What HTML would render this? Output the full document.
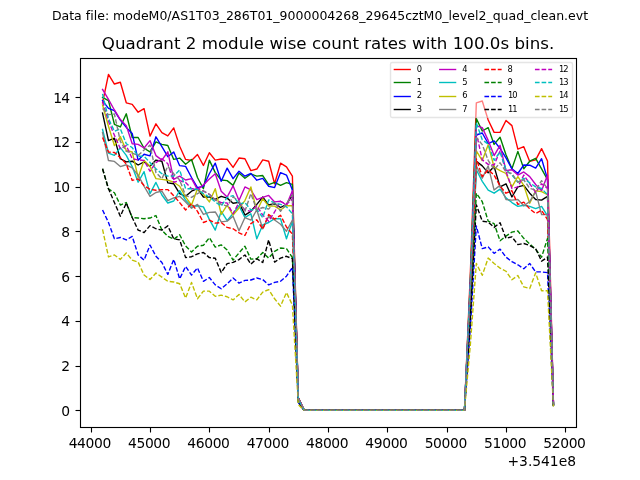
<!DOCTYPE html>
<html lang="en">
<head>
<meta charset="utf-8">
<title>Quadrant 2 module wise count rates</title>
<style>
html,body{margin:0;padding:0;background:#fff;}
body{width:640px;height:480px;overflow:hidden;}
svg{display:block;}
text{font-family:"DejaVu Sans","Liberation Sans",sans-serif;fill:#000;font-variant-ligatures:none;font-kerning:none;}
.tk{font-size:13.889px;}
.lg{font-size:8.333px;}
.ln{fill:none;stroke-width:1.389;stroke-linejoin:round;}
.ds{stroke-dasharray:4.64 2.01;}
.ax{stroke:#000;stroke-width:1.11;fill:none;}
</style>
</head>
<body>
<svg width="640" height="480" viewBox="0 0 640 480">
<rect x="0" y="0" width="640" height="480" fill="#ffffff"/>
<defs><clipPath id="axclip"><rect x="80" y="57.6" width="496" height="369.6"/></clipPath></defs>
<text x="320" y="19.6" text-anchor="middle" font-size="12.5" textLength="536.24">Data file: modeM0/AS1T03_286T01_9000004268_29645cztM0_level2_quad_clean.evt</text>
<text x="328" y="49.3" text-anchor="middle" font-size="16.667" textLength="452.4">Quadrant 2 module wise count rates with 100.0s bins.</text>
<g clip-path="url(#axclip)">
<polyline class="ln" stroke="#ff0000" stroke-linecap="square" points="102.55,102.81 108.48,74.40 114.41,84.02 120.34,82.23 126.28,102.81 132.21,104.38 138.14,112.21 144.08,108.63 150.01,136.14 155.94,123.84 161.88,132.56 167.81,135.92 173.74,127.86 179.67,146.21 185.61,159.41 191.54,160.53 197.47,154.49 203.41,165.45 209.34,152.70 215.27,160.08 221.21,158.96 227.14,159.41 233.07,167.46 239.00,158.06 244.94,158.74 250.87,170.59 256.80,169.03 262.74,159.85 268.67,161.20 274.60,183.79 280.54,163.21 286.47,166.79 292.40,176.18 298.33,397.52 304.27,410.40 310.20,410.40 316.13,410.40 322.07,410.40 328.00,410.40 333.93,410.40 339.87,410.40 345.80,410.40 351.73,410.40 357.67,410.40 363.60,410.40 369.53,410.40 375.46,410.40 381.40,410.40 387.33,410.40 393.26,410.40 399.20,410.40 405.13,410.40 411.06,410.40 417.00,410.40 422.93,410.40 428.86,410.40 434.79,410.40 440.73,410.40 446.66,410.40 452.59,410.40 458.53,410.40 464.46,410.40 470.39,271.98 476.33,102.81 482.26,101.02 488.19,120.04 494.12,132.34 500.06,132.34 505.99,120.48 511.92,125.63 517.86,149.12 523.79,146.66 529.72,161.42 535.66,159.85 541.59,148.67 547.52,160.97 553.45,403.67"/>
<polyline class="ln" stroke="#008000" stroke-linecap="square" points="102.55,97.44 108.48,100.57 114.41,124.29 120.34,126.97 126.28,113.77 132.21,137.48 138.14,137.48 144.08,148.22 150.01,151.80 155.94,141.96 161.88,144.42 167.81,145.54 173.74,159.41 179.67,158.06 185.61,164.33 191.54,159.41 197.47,177.53 203.41,188.71 209.34,160.08 215.27,172.61 221.21,179.99 227.14,180.66 233.07,185.36 239.00,173.05 244.94,178.20 250.87,173.95 256.80,176.18 262.74,175.51 268.67,184.68 274.60,182.45 280.54,185.36 286.47,182.67 292.40,184.46 298.33,397.97 304.27,410.40 310.20,410.40 316.13,410.40 322.07,410.40 328.00,410.40 333.93,410.40 339.87,410.40 345.80,410.40 351.73,410.40 357.67,410.40 363.60,410.40 369.53,410.40 375.46,410.40 381.40,410.40 387.33,410.40 393.26,410.40 399.20,410.40 405.13,410.40 411.06,410.40 417.00,410.40 422.93,410.40 428.86,410.40 434.79,410.40 440.73,410.40 446.66,410.40 452.59,410.40 458.53,410.40 464.46,410.40 470.39,279.03 476.33,118.47 482.26,131.00 488.19,127.64 494.12,144.42 500.06,137.26 505.99,154.71 511.92,168.80 517.86,151.35 523.79,168.80 529.72,161.20 535.66,158.29 541.59,168.80 547.52,179.76 553.45,404.17"/>
<polyline class="ln" stroke="#0000ff" stroke-linecap="square" points="102.55,100.57 108.48,108.40 114.41,110.64 120.34,120.04 126.28,127.42 132.21,133.46 138.14,160.30 144.08,154.26 150.01,155.83 155.94,136.81 161.88,146.66 167.81,156.72 173.74,152.02 179.67,165.67 185.61,166.34 191.54,177.53 197.47,187.59 203.41,186.25 209.34,173.72 215.27,163.21 221.21,181.33 227.14,168.13 233.07,178.65 239.00,171.26 244.94,176.18 250.87,173.50 256.80,180.21 262.74,178.42 268.67,186.25 274.60,187.59 280.54,172.61 286.47,175.07 292.40,190.05 298.33,398.28 304.27,410.40 310.20,410.40 316.13,410.40 322.07,410.40 328.00,410.40 333.93,410.40 339.87,410.40 345.80,410.40 351.73,410.40 357.67,410.40 363.60,410.40 369.53,410.40 375.46,410.40 381.40,410.40 387.33,410.40 393.26,410.40 399.20,410.40 405.13,410.40 411.06,410.40 417.00,410.40 422.93,410.40 428.86,410.40 434.79,410.40 440.73,410.40 446.66,410.40 452.59,410.40 458.53,410.40 464.46,410.40 470.39,286.48 476.33,135.02 482.26,133.01 488.19,143.52 494.12,140.84 500.06,148.45 505.99,157.84 511.92,168.80 517.86,173.50 523.79,165.00 529.72,165.22 535.66,168.13 541.59,158.74 547.52,179.09 553.45,404.15"/>
<polyline class="ln" stroke="#000000" stroke-linecap="square" points="102.55,113.10 108.48,140.62 114.41,138.15 120.34,158.74 126.28,161.87 132.21,161.20 138.14,165.00 144.08,161.87 150.01,166.34 155.94,160.08 161.88,161.20 167.81,182.90 173.74,183.79 179.67,193.63 185.61,196.32 191.54,191.17 197.47,188.71 203.41,196.99 209.34,196.99 215.27,199.45 221.21,196.32 227.14,198.11 233.07,203.25 239.00,202.36 244.94,215.11 250.87,211.31 256.80,204.37 262.74,196.99 268.67,205.04 274.60,203.70 280.54,207.50 286.47,204.37 292.40,194.98 298.33,398.55 304.27,410.40 310.20,410.40 316.13,410.40 322.07,410.40 328.00,410.40 333.93,410.40 339.87,410.40 345.80,410.40 351.73,410.40 357.67,410.40 363.60,410.40 369.53,410.40 375.46,410.40 381.40,410.40 387.33,410.40 393.26,410.40 399.20,410.40 405.13,410.40 411.06,410.40 417.00,410.40 422.93,410.40 428.86,410.40 434.79,410.40 440.73,410.40 446.66,410.40 452.59,410.40 458.53,410.40 464.46,410.40 470.39,298.26 476.33,161.20 482.26,165.89 488.19,172.83 494.12,166.57 500.06,186.92 505.99,183.79 511.92,196.99 517.86,186.92 523.79,185.36 529.72,193.19 535.66,199.45 541.59,200.12 547.52,196.32 553.45,404.62"/>
<polyline class="ln" stroke="#bf00bf" stroke-linecap="square" points="102.55,89.39 108.48,99.45 114.41,109.97 120.34,119.59 126.28,125.63 132.21,143.75 138.14,144.42 144.08,148.00 150.01,140.62 155.94,155.60 161.88,160.08 167.81,151.80 173.74,179.32 179.67,176.18 185.61,179.99 191.54,178.65 197.47,189.61 203.41,184.91 209.34,179.09 215.27,173.72 221.21,191.17 227.14,196.99 233.07,185.80 239.00,200.57 244.94,186.92 250.87,189.83 256.80,199.67 262.74,197.44 268.67,195.42 274.60,201.91 280.54,201.24 286.47,205.04 292.40,190.72 298.33,398.32 304.27,410.40 310.20,410.40 316.13,410.40 322.07,410.40 328.00,410.40 333.93,410.40 339.87,410.40 345.80,410.40 351.73,410.40 357.67,410.40 363.60,410.40 369.53,410.40 375.46,410.40 381.40,410.40 387.33,410.40 393.26,410.40 399.20,410.40 405.13,410.40 411.06,410.40 417.00,410.40 422.93,410.40 428.86,410.40 434.79,410.40 440.73,410.40 446.66,410.40 452.59,410.40 458.53,410.40 464.46,410.40 470.39,282.25 476.33,125.63 482.26,127.64 488.19,140.39 494.12,155.60 500.06,145.31 505.99,170.59 511.92,169.70 517.86,175.07 523.79,171.93 529.72,176.63 535.66,184.46 541.59,190.72 547.52,175.07 553.45,404.05"/>
<polyline class="ln" stroke="#00bfbf" stroke-linecap="square" points="102.55,129.43 108.48,153.14 114.41,155.38 120.34,147.55 126.28,155.38 132.21,166.57 138.14,182.22 144.08,171.71 150.01,193.63 155.94,182.45 161.88,194.98 167.81,203.03 173.74,201.02 179.67,190.72 185.61,200.12 191.54,206.16 197.47,205.71 203.41,206.83 209.34,219.36 215.27,230.10 221.21,211.31 227.14,220.70 233.07,213.54 239.00,205.71 244.94,217.57 250.87,213.77 256.80,238.82 262.74,224.95 268.67,222.49 274.60,218.69 280.54,218.69 286.47,238.82 292.40,221.15 298.33,399.99 304.27,410.40 310.20,410.40 316.13,410.40 322.07,410.40 328.00,410.40 333.93,410.40 339.87,410.40 345.80,410.40 351.73,410.40 357.67,410.40 363.60,410.40 369.53,410.40 375.46,410.40 381.40,410.40 387.33,410.40 393.26,410.40 399.20,410.40 405.13,410.40 411.06,410.40 417.00,410.40 422.93,410.40 428.86,410.40 434.79,410.40 440.73,410.40 446.66,410.40 452.59,410.40 458.53,410.40 464.46,410.40 470.39,302.08 476.33,169.70 482.26,181.33 488.19,190.05 494.12,193.19 500.06,189.16 505.99,197.88 511.92,202.58 517.86,206.38 523.79,205.27 529.72,206.38 535.66,208.62 541.59,206.38 547.52,215.78 553.45,405.15"/>
<polyline class="ln" stroke="#bfbf00" stroke-linecap="square" points="102.55,105.05 108.48,126.30 114.41,145.54 120.34,136.59 126.28,150.46 132.21,152.02 138.14,177.53 144.08,160.53 150.01,166.34 155.94,178.65 161.88,179.32 167.81,180.21 173.74,182.22 179.67,186.25 185.61,196.99 191.54,205.04 197.47,188.71 203.41,194.30 209.34,201.91 215.27,188.71 221.21,214.44 227.14,205.04 233.07,215.11 239.00,207.95 244.94,200.57 250.87,186.92 256.80,211.31 262.74,198.78 268.67,206.16 274.60,206.16 280.54,209.96 286.47,205.71 292.40,205.71 298.33,399.14 304.27,410.40 310.20,410.40 316.13,410.40 322.07,410.40 328.00,410.40 333.93,410.40 339.87,410.40 345.80,410.40 351.73,410.40 357.67,410.40 363.60,410.40 369.53,410.40 375.46,410.40 381.40,410.40 387.33,410.40 393.26,410.40 399.20,410.40 405.13,410.40 411.06,410.40 417.00,410.40 422.93,410.40 428.86,410.40 434.79,410.40 440.73,410.40 446.66,410.40 452.59,410.40 458.53,410.40 464.46,410.40 470.39,293.63 476.33,150.91 482.26,160.53 488.19,144.64 494.12,167.24 500.06,170.59 505.99,173.50 511.92,186.92 517.86,176.63 523.79,185.36 529.72,203.25 535.66,190.72 541.59,191.62 547.52,194.75 553.45,404.58"/>
<polyline class="ln" stroke="#808080" stroke-linecap="square" points="102.55,132.56 108.48,160.53 114.41,161.42 120.34,166.57 126.28,164.78 132.21,167.91 138.14,175.07 144.08,186.25 150.01,196.32 155.94,192.51 161.88,191.17 167.81,200.57 173.74,197.88 179.67,196.32 185.61,201.91 191.54,208.17 197.47,204.37 203.41,214.44 209.34,212.42 215.27,211.98 221.21,221.82 227.14,221.15 233.07,216.23 239.00,230.77 244.94,217.57 250.87,220.03 256.80,209.96 262.74,228.75 268.67,216.23 274.60,220.03 280.54,224.28 286.47,231.21 292.40,220.03 298.33,399.93 304.27,410.40 310.20,410.40 316.13,410.40 322.07,410.40 328.00,410.40 333.93,410.40 339.87,410.40 345.80,410.40 351.73,410.40 357.67,410.40 363.60,410.40 369.53,410.40 375.46,410.40 381.40,410.40 387.33,410.40 393.26,410.40 399.20,410.40 405.13,410.40 411.06,410.40 417.00,410.40 422.93,410.40 428.86,410.40 434.79,410.40 440.73,410.40 446.66,410.40 452.59,410.40 458.53,410.40 464.46,410.40 470.39,300.37 476.33,165.89 482.26,178.20 488.19,165.89 494.12,190.05 500.06,185.36 505.99,199.45 511.92,200.12 517.86,199.45 523.79,205.71 529.72,201.69 535.66,191.62 541.59,214.66 547.52,214.66 553.45,405.12"/>
<polyline class="ln ds" stroke="#ff0000" points="102.55,137.48 108.48,152.02 114.41,152.47 120.34,157.62 126.28,163.88 132.21,180.43 138.14,178.87 144.08,185.58 150.01,189.38 155.94,190.28 161.88,189.61 167.81,189.61 173.74,195.65 179.67,202.58 185.61,209.96 191.54,203.70 197.47,211.31 203.41,222.49 209.34,220.03 215.27,223.16 221.21,222.49 227.14,227.41 233.07,228.75 239.00,232.78 244.94,235.47 250.87,223.61 256.80,219.81 262.74,229.20 268.67,214.44 274.60,219.14 280.54,215.33 286.47,226.96 292.40,234.12 298.33,400.70 304.27,410.40 310.20,410.40 316.13,410.40 322.07,410.40 328.00,410.40 333.93,410.40 339.87,410.40 345.80,410.40 351.73,410.40 357.67,410.40 363.60,410.40 369.53,410.40 375.46,410.40 381.40,410.40 387.33,410.40 393.26,410.40 399.20,410.40 405.13,410.40 411.06,410.40 417.00,410.40 422.93,410.40 428.86,410.40 434.79,410.40 440.73,410.40 446.66,410.40 452.59,410.40 458.53,410.40 464.46,410.40 470.39,297.15 476.33,158.74 482.26,176.63 488.19,169.70 494.12,175.07 500.06,186.03 505.99,193.19 511.92,190.72 517.86,204.37 523.79,202.13 529.72,208.84 535.66,213.54 541.59,210.41 547.52,219.58 553.45,405.25"/>
<polyline class="ln ds" stroke="#008000" points="102.55,168.80 108.48,188.94 114.41,192.74 120.34,205.04 126.28,202.58 132.21,217.57 138.14,218.02 144.08,218.69 150.01,218.02 155.94,215.56 161.88,230.10 167.81,236.36 173.74,239.27 179.67,234.79 185.61,245.98 191.54,252.02 197.47,246.20 203.41,245.31 209.34,237.70 215.27,247.10 221.21,244.86 227.14,250.01 233.07,260.07 239.00,252.91 244.94,246.20 250.87,259.18 256.80,258.73 262.74,252.47 268.67,258.06 274.60,251.35 280.54,247.99 286.47,248.66 292.40,257.61 298.33,402.00 304.27,410.40 310.20,410.40 316.13,410.40 322.07,410.40 328.00,410.40 333.93,410.40 339.87,410.40 345.80,410.40 351.73,410.40 357.67,410.40 363.60,410.40 369.53,410.40 375.46,410.40 381.40,410.40 387.33,410.40 393.26,410.40 399.20,410.40 405.13,410.40 411.06,410.40 417.00,410.40 422.93,410.40 428.86,410.40 434.79,410.40 440.73,410.40 446.66,410.40 452.59,410.40 458.53,410.40 464.46,410.40 470.39,312.65 476.33,193.19 482.26,201.69 488.19,221.15 494.12,223.61 500.06,240.83 505.99,236.14 511.92,232.11 517.86,230.99 523.79,238.37 529.72,243.97 535.66,249.33 541.59,257.16 547.52,238.37 553.45,405.76"/>
<polyline class="ln ds" stroke="#0000ff" points="102.55,209.96 108.48,222.49 114.41,238.82 120.34,237.48 126.28,239.94 132.21,236.36 138.14,254.93 144.08,260.07 150.01,245.08 155.94,256.27 161.88,262.53 167.81,274.39 173.74,259.40 179.67,278.86 185.61,266.34 191.54,275.06 197.47,267.90 203.41,281.32 209.34,277.52 215.27,284.90 221.21,288.71 227.14,283.78 233.07,277.97 239.00,283.11 244.94,280.43 250.87,279.98 256.80,277.97 262.74,279.53 268.67,284.90 274.60,282.44 280.54,281.32 286.47,276.18 292.40,267.45 298.33,402.54 304.27,410.40 310.20,410.40 316.13,410.40 322.07,410.40 328.00,410.40 333.93,410.40 339.87,410.40 345.80,410.40 351.73,410.40 357.67,410.40 363.60,410.40 369.53,410.40 375.46,410.40 381.40,410.40 387.33,410.40 393.26,410.40 399.20,410.40 405.13,410.40 411.06,410.40 417.00,410.40 422.93,410.40 428.86,410.40 434.79,410.40 440.73,410.40 446.66,410.40 452.59,410.40 458.53,410.40 464.46,410.40 470.39,327.35 476.33,225.85 482.26,248.66 488.19,246.87 494.12,253.36 500.06,249.11 505.99,257.16 511.92,261.64 517.86,264.77 523.79,268.80 529.72,263.43 535.66,271.93 541.59,271.93 547.52,272.60 553.45,406.68"/>
<polyline class="ln ds" stroke="#000000" points="102.55,168.80 108.48,188.71 114.41,202.58 120.34,216.23 126.28,203.03 132.21,217.57 138.14,230.10 144.08,232.56 150.01,225.62 155.94,228.75 161.88,230.10 167.81,225.85 173.74,238.82 179.67,239.94 185.61,257.61 191.54,256.72 197.47,253.81 203.41,252.47 209.34,257.61 215.27,258.28 221.21,272.60 227.14,263.65 233.07,262.31 239.00,259.63 244.94,254.93 250.87,264.10 256.80,258.73 262.74,262.53 268.67,239.94 274.60,262.09 280.54,258.06 286.47,256.27 292.40,258.73 298.33,402.06 304.27,410.40 310.20,410.40 316.13,410.40 322.07,410.40 328.00,410.40 333.93,410.40 339.87,410.40 345.80,410.40 351.73,410.40 357.67,410.40 363.60,410.40 369.53,410.40 375.46,410.40 381.40,410.40 387.33,410.40 393.26,410.40 399.20,410.40 405.13,410.40 411.06,410.40 417.00,410.40 422.93,410.40 428.86,410.40 434.79,410.40 440.73,410.40 446.66,410.40 452.59,410.40 458.53,410.40 464.46,410.40 470.39,317.89 476.33,204.82 482.26,221.15 488.19,222.04 494.12,227.41 500.06,222.71 505.99,238.37 511.92,236.81 517.86,244.64 523.79,243.52 529.72,245.53 535.66,248.66 541.59,261.19 547.52,257.16 553.45,406.26"/>
<polyline class="ln ds" stroke="#bf00bf" points="102.55,101.24 108.48,121.15 114.41,135.25 120.34,148.67 126.28,145.54 132.21,158.74 138.14,159.85 144.08,160.53 150.01,171.26 155.94,162.54 161.88,158.74 167.81,163.66 173.74,182.22 179.67,180.66 185.61,182.45 191.54,188.71 197.47,188.71 203.41,191.17 209.34,194.30 215.27,199.90 221.21,202.58 227.14,203.03 233.07,213.77 239.00,202.36 244.94,209.96 250.87,211.31 256.80,205.71 262.74,215.11 268.67,221.15 274.60,211.98 280.54,201.24 286.47,204.37 292.40,198.78 298.33,398.76 304.27,410.40 310.20,410.40 316.13,410.40 322.07,410.40 328.00,410.40 333.93,410.40 339.87,410.40 345.80,410.40 351.73,410.40 357.67,410.40 363.60,410.40 369.53,410.40 375.46,410.40 381.40,410.40 387.33,410.40 393.26,410.40 399.20,410.40 405.13,410.40 411.06,410.40 417.00,410.40 422.93,410.40 428.86,410.40 434.79,410.40 440.73,410.40 446.66,410.40 452.59,410.40 458.53,410.40 464.46,410.40 470.39,285.57 476.33,133.01 482.26,159.85 488.19,164.33 494.12,165.00 500.06,150.91 505.99,171.26 511.92,188.49 517.86,186.92 523.79,175.07 529.72,183.79 535.66,192.29 541.59,183.79 547.52,188.49 553.45,404.41"/>
<polyline class="ln ds" stroke="#00bfbf" points="102.55,93.86 108.48,118.69 114.41,131.22 120.34,128.76 126.28,143.75 132.21,147.55 138.14,156.27 144.08,156.27 150.01,162.54 155.94,168.80 161.88,173.72 167.81,176.18 173.74,176.18 179.67,169.92 185.61,188.71 191.54,188.71 197.47,189.38 203.41,193.63 209.34,196.99 215.27,201.91 221.21,206.16 227.14,197.44 233.07,195.65 239.00,204.15 244.94,202.58 250.87,209.96 256.80,209.29 262.74,217.57 268.67,199.90 274.60,203.03 280.54,204.37 286.47,206.83 292.40,213.77 298.33,399.59 304.27,410.40 310.20,410.40 316.13,410.40 322.07,410.40 328.00,410.40 333.93,410.40 339.87,410.40 345.80,410.40 351.73,410.40 357.67,410.40 363.60,410.40 369.53,410.40 375.46,410.40 381.40,410.40 387.33,410.40 393.26,410.40 399.20,410.40 405.13,410.40 411.06,410.40 417.00,410.40 422.93,410.40 428.86,410.40 434.79,410.40 440.73,410.40 446.66,410.40 452.59,410.40 458.53,410.40 464.46,410.40 470.39,281.04 476.33,122.94 482.26,139.72 488.19,144.19 494.12,160.30 500.06,151.80 505.99,169.70 511.92,175.07 517.86,182.22 523.79,178.20 529.72,182.90 535.66,186.92 541.59,188.49 547.52,194.75 553.45,404.58"/>
<polyline class="ln ds" stroke="#bfbf00" points="102.55,229.43 108.48,256.94 114.41,254.93 120.34,259.40 126.28,252.91 132.21,260.07 138.14,262.09 144.08,275.06 150.01,279.53 155.94,273.05 161.88,277.07 167.81,281.32 173.74,282.00 179.67,283.78 185.61,298.10 191.54,282.44 197.47,298.77 203.41,291.17 209.34,291.17 215.27,296.31 221.21,295.19 227.14,296.76 233.07,299.89 239.00,294.52 244.94,301.90 250.87,297.21 256.80,299.89 262.74,292.06 268.67,289.60 274.60,298.77 280.54,306.15 286.47,292.51 292.40,305.04 298.33,404.61 304.27,410.40 310.20,410.40 316.13,410.40 322.07,410.40 328.00,410.40 333.93,410.40 339.87,410.40 345.80,410.40 351.73,410.40 357.67,410.40 363.60,410.40 369.53,410.40 375.46,410.40 381.40,410.40 387.33,410.40 393.26,410.40 399.20,410.40 405.13,410.40 411.06,410.40 417.00,410.40 422.93,410.40 428.86,410.40 434.79,410.40 440.73,410.40 446.66,410.40 452.59,410.40 458.53,410.40 464.46,410.40 470.39,344.26 476.33,263.43 482.26,275.28 488.19,258.06 494.12,263.43 500.06,268.13 505.99,271.26 511.92,279.76 517.86,275.51 523.79,286.92 529.72,288.48 535.66,272.82 541.59,290.72 547.52,290.72 553.45,407.17"/>
<polyline class="ln ds" stroke="#808080" points="102.55,108.40 108.48,114.67 114.41,114.00 120.34,141.29 126.28,151.35 132.21,153.14 138.14,155.38 144.08,150.01 150.01,145.09 155.94,172.61 161.88,178.65 167.81,166.34 173.74,173.72 179.67,179.99 185.61,195.65 191.54,197.44 197.47,193.63 203.41,190.72 209.34,194.30 215.27,199.90 221.21,204.37 227.14,206.16 233.07,196.99 239.00,201.02 244.94,211.31 250.87,193.63 256.80,209.96 262.74,207.50 268.67,209.07 274.60,201.91 280.54,211.31 286.47,203.70 292.40,194.98 298.33,398.55 304.27,410.40 310.20,410.40 316.13,410.40 322.07,410.40 328.00,410.40 333.93,410.40 339.87,410.40 345.80,410.40 351.73,410.40 357.67,410.40 363.60,410.40 369.53,410.40 375.46,410.40 381.40,410.40 387.33,410.40 393.26,410.40 399.20,410.40 405.13,410.40 411.06,410.40 417.00,410.40 422.93,410.40 428.86,410.40 434.79,410.40 440.73,410.40 446.66,410.40 452.59,410.40 458.53,410.40 464.46,410.40 470.39,287.59 476.33,137.48 482.26,144.64 488.19,160.30 494.12,169.70 500.06,162.76 505.99,171.93 511.92,173.50 517.86,182.22 523.79,179.76 529.72,188.49 535.66,190.05 541.59,180.66 547.52,188.49 553.45,404.41"/>
</g>
<line class="ax" x1="91.5" y1="427.5" x2="91.5" y2="432.5"/>
<text class="tk" x="89.98" y="447.92" text-anchor="middle" textLength="42.6">44000</text>
<line class="ax" x1="150.5" y1="427.5" x2="150.5" y2="432.5"/>
<text class="tk" x="149.31" y="447.92" text-anchor="middle" textLength="42.6">45000</text>
<line class="ax" x1="209.5" y1="427.5" x2="209.5" y2="432.5"/>
<text class="tk" x="208.64" y="447.92" text-anchor="middle" textLength="42.6">46000</text>
<line class="ax" x1="269.5" y1="427.5" x2="269.5" y2="432.5"/>
<text class="tk" x="267.97" y="447.92" text-anchor="middle" textLength="42.6">47000</text>
<line class="ax" x1="328.5" y1="427.5" x2="328.5" y2="432.5"/>
<text class="tk" x="327.30" y="447.92" text-anchor="middle" textLength="42.6">48000</text>
<line class="ax" x1="387.5" y1="427.5" x2="387.5" y2="432.5"/>
<text class="tk" x="386.63" y="447.92" text-anchor="middle" textLength="42.6">49000</text>
<line class="ax" x1="447.5" y1="427.5" x2="447.5" y2="432.5"/>
<text class="tk" x="445.96" y="447.92" text-anchor="middle" textLength="42.6">50000</text>
<line class="ax" x1="506.5" y1="427.5" x2="506.5" y2="432.5"/>
<text class="tk" x="505.29" y="447.92" text-anchor="middle" textLength="42.6">51000</text>
<line class="ax" x1="565.5" y1="427.5" x2="565.5" y2="432.5"/>
<text class="tk" x="564.62" y="447.92" text-anchor="middle" textLength="42.6">52000</text>
<line class="ax" x1="75.5" y1="410.5" x2="80.5" y2="410.5"/>
<text class="tk" x="70.0" y="415.90" text-anchor="end" textLength="8.75">0</text>
<line class="ax" x1="75.5" y1="366.5" x2="80.5" y2="366.5"/>
<text class="tk" x="70.0" y="371.16" text-anchor="end" textLength="8.75">2</text>
<line class="ax" x1="75.5" y1="321.5" x2="80.5" y2="321.5"/>
<text class="tk" x="70.0" y="326.42" text-anchor="end" textLength="8.75">4</text>
<line class="ax" x1="75.5" y1="276.5" x2="80.5" y2="276.5"/>
<text class="tk" x="70.0" y="281.68" text-anchor="end" textLength="8.75">6</text>
<line class="ax" x1="75.5" y1="231.5" x2="80.5" y2="231.5"/>
<text class="tk" x="70.0" y="236.94" text-anchor="end" textLength="8.75">8</text>
<line class="ax" x1="75.5" y1="187.5" x2="80.5" y2="187.5"/>
<text class="tk" x="70.0" y="192.20" text-anchor="end" textLength="16.80">10</text>
<line class="ax" x1="75.5" y1="142.5" x2="80.5" y2="142.5"/>
<text class="tk" x="70.0" y="147.46" text-anchor="end" textLength="16.80">12</text>
<line class="ax" x1="75.5" y1="97.5" x2="80.5" y2="97.5"/>
<text class="tk" x="70.0" y="102.72" text-anchor="end" textLength="16.80">14</text>
<text class="tk" x="576" y="466.09" text-anchor="end" textLength="68.5">+3.541e8</text>
<rect class="ax" x="80.5" y="58.5" width="496" height="369"/>
<rect x="390.5" y="62.5" width="182" height="55" rx="1.67" ry="1.67" fill="#ffffff" fill-opacity="0.5" stroke="#cccccc" stroke-opacity="0.5" stroke-width="1.389"/>
<line class="ln" stroke="#ff0000" x1="393.69" y1="69.50" x2="410.89" y2="69.50"/>
<text class="lg" x="416.82" y="72.10">0</text>
<line class="ln" stroke="#008000" x1="393.69" y1="82.50" x2="410.89" y2="82.50"/>
<text class="lg" x="416.82" y="85.27">1</text>
<line class="ln" stroke="#0000ff" x1="393.69" y1="96.50" x2="410.89" y2="96.50"/>
<text class="lg" x="416.82" y="98.43">2</text>
<line class="ln" stroke="#000000" x1="393.69" y1="109.50" x2="410.89" y2="109.50"/>
<text class="lg" x="416.82" y="111.60">3</text>
<line class="ln" stroke="#bf00bf" x1="439.07" y1="69.50" x2="456.27" y2="69.50"/>
<text class="lg" x="462.20" y="72.10">4</text>
<line class="ln" stroke="#00bfbf" x1="439.07" y1="82.50" x2="456.27" y2="82.50"/>
<text class="lg" x="462.20" y="85.27">5</text>
<line class="ln" stroke="#bfbf00" x1="439.07" y1="96.50" x2="456.27" y2="96.50"/>
<text class="lg" x="462.20" y="98.43">6</text>
<line class="ln" stroke="#808080" x1="439.07" y1="109.50" x2="456.27" y2="109.50"/>
<text class="lg" x="462.20" y="111.60">7</text>
<line class="ln ds" stroke="#ff0000" x1="484.44" y1="69.50" x2="501.64" y2="69.50"/>
<text class="lg" x="507.57" y="72.10">8</text>
<line class="ln ds" stroke="#008000" x1="484.44" y1="82.50" x2="501.64" y2="82.50"/>
<text class="lg" x="507.57" y="85.27">9</text>
<line class="ln ds" stroke="#0000ff" x1="484.44" y1="96.50" x2="501.64" y2="96.50"/>
<text class="lg" x="508.00" y="98.43" textLength="9.5">10</text>
<line class="ln ds" stroke="#000000" x1="484.44" y1="109.50" x2="501.64" y2="109.50"/>
<text class="lg" x="508.00" y="111.60" textLength="9.5">11</text>
<line class="ln ds" stroke="#bf00bf" x1="534.94" y1="69.50" x2="552.14" y2="69.50"/>
<text class="lg" x="559.00" y="72.10" textLength="9.5">12</text>
<line class="ln ds" stroke="#00bfbf" x1="534.94" y1="82.50" x2="552.14" y2="82.50"/>
<text class="lg" x="559.00" y="85.27" textLength="9.5">13</text>
<line class="ln ds" stroke="#bfbf00" x1="534.94" y1="96.50" x2="552.14" y2="96.50"/>
<text class="lg" x="559.00" y="98.43" textLength="9.5">14</text>
<line class="ln ds" stroke="#808080" x1="534.94" y1="109.50" x2="552.14" y2="109.50"/>
<text class="lg" x="559.00" y="111.60" textLength="9.5">15</text>
</svg>
</body>
</html>
